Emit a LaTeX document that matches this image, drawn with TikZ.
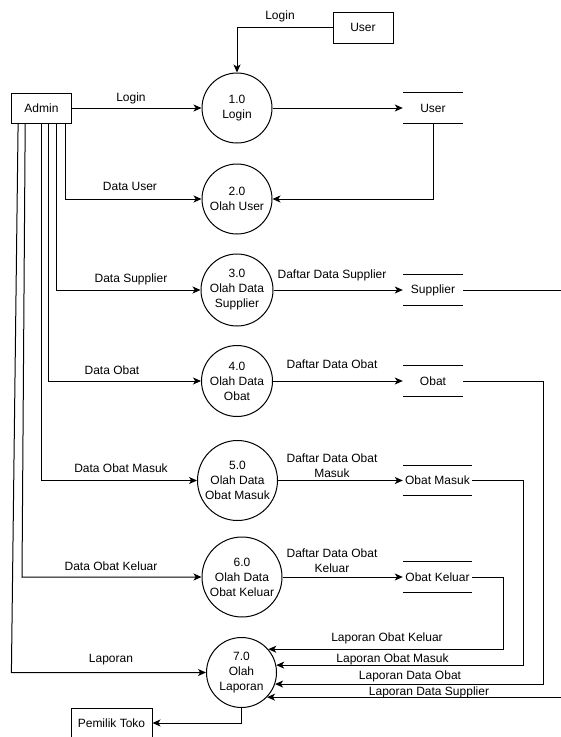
\documentclass[tikz,border=0pt]{standalone}
\usepackage{fontspec}
\setmainfont{Liberation Sans}
\usetikzlibrary{arrows.meta}
\begin{document}
\begin{tikzpicture}[x=1pt,y=-1pt,
  every node/.style={font=\fontsize{12}{15}\selectfont},
  proc/.style={draw, circle, line width=1pt, inner sep=0pt, minimum size=#1, align=center},
  proc/.default=70pt,
  ent/.style={draw, line width=1pt, inner sep=0pt, minimum height=30pt, minimum width=#1},
  wire/.style={line width=1pt},
  store/.style={inner sep=0pt, minimum height=30pt, minimum width=#1,
    append after command={(\tikzlastnode.north west) edge[wire] (\tikzlastnode.north east)
                          (\tikzlastnode.south west) edge[wire] (\tikzlastnode.south east)}},
  store/.default=60pt,
  lbl/.style={inner sep=0pt, text height=8.6pt, text depth=0pt},
  mlbl/.style={inner sep=0pt, align=center},
  flow/.style={line width=1pt, -{Stealth[length=8pt,width=7pt,inset=2.2pt]}}
]
\clip (0,0) rectangle (561,737);

% external entities
\node[ent=60pt] (admin) at (41.5,108) {Admin};
\node[ent=60pt, minimum height=31pt] (usr) at (363,27.5) {User};
\node[ent=81pt] (pemilik) at (111.5,723) {Pemilik Toko};

% processes
\node[proc] (c1) at (237,108) {1.0\\Login};
\node[proc] (c2) at (237,199) {2.0\\Olah User};
\node[proc=72pt] (c3) at (237,290) {3.0\\Olah Data\\Supplier};
\node[proc=71pt] (c4) at (237,381) {4.0\\Olah Data\\Obat};
\node[proc=80pt] (c5) at (237.5,480.5) {5.0\\Olah Data\\Obat Masuk};
\node[proc=80pt] (c6) at (242,577) {6.0\\Olah Data\\Obat Keluar};
\node[proc] (c7) at (241.5,672.5) {7.0\\Olah\\Laporan};

% data stores
\node[store] (sUser) at (433,108) {User};
\node[store, minimum height=31pt] (sSup) at (433,290) {Supplier};
\node[store, minimum height=31pt] (sObat) at (433,381) {Obat};
\node[store=69pt] (sMasuk) at (437.5,480.5) {Obat Masuk};
\node[store=69pt] (sKeluar) at (437.5,577) {Obat Keluar};

% coordinates
\coordinate (kb) at (22,577);
\coordinate (lb) at (11.4,672.5);
\coordinate (supR) at (565,290);
\coordinate (supB) at (565,0);

% flows
\draw[flow] (usr.west) -| (c1.north);
\draw[flow] (admin.east) -- (c1.west);
\draw[flow] (c1.east) -- (sUser.west);
\draw[flow] (sUser.south) |- (c2.east);
\draw[flow] ([xshift=54.5pt]admin.south west) |- (c2.west);
\draw[flow] ([xshift=45.5pt]admin.south west) |- (c3.west);
\draw[flow] ([xshift=37pt]admin.south west) |- (c4.west);
\draw[flow] ([xshift=30.5pt]admin.south west) |- (c5.west);
\draw[flow] ([xshift=14.2pt]admin.south west) -- (kb) -- (c6.west);
\draw[flow] ([xshift=7.1pt]admin.south west) -- (lb) -- (c7.west);

\draw[flow] (c3.east) -- (sSup.west);
\draw[wire] (sSup.east) -- (supR);
\draw[flow] (c4.east) -- (sObat.west);
\draw[flow] (c5.east) -- (sMasuk.west);
\draw[flow] (c6.east) -- (sKeluar.west);

\draw[flow] (sKeluar.east) -- ++(31.5,0) |- (c7.41.4);
\draw[flow] (sMasuk.east) -- ++(51,0) |- (c7.12.2);
\draw[flow] (sObat.east) -- ++(80,0) |- (c7.341.1);
\draw[flow] (c7.316.4 -| supB) -- (c7.316.4);
\draw[flow] (c7.south) |- (pemilik.east);

% labels
\node[lbl] (tLogin) at (280,15) {Login};
\node[lbl] (lLogin) at (131,97) {Login};
\node[lbl] (lUser) at (130,186) {Data User};
\node[lbl] (lSup) at (131,278) {Data Supplier};
\node[lbl] (lDSup) at (332,274) {Daftar Data Supplier};
\node[lbl] (lObat) at (112,370) {Data Obat};
\node[lbl] (lDObat) at (332,364) {Daftar Data Obat};
\node[lbl] (lMasuk) at (121,468) {Data Obat Masuk};
\node[mlbl] (lDMasuk) at (332,466) {Daftar Data Obat\\Masuk};
\node[lbl] (lKeluar) at (111,566) {Data Obat Keluar};
\node[mlbl] (lDKeluar) at (332,561) {Daftar Data Obat\\Keluar};
\node[lbl] (lLap) at (111,658) {Laporan};
\node[lbl] (lLK) at (387,637) {Laporan Obat Keluar};
\node[lbl] (lLM) at (392.5,658) {Laporan Obat Masuk};
\node[lbl] (lLO) at (410,675) {Laporan Data Obat};
\node[lbl] (lLS) at (429,691) {Laporan Data Supplier};
\end{tikzpicture}
\end{document}
